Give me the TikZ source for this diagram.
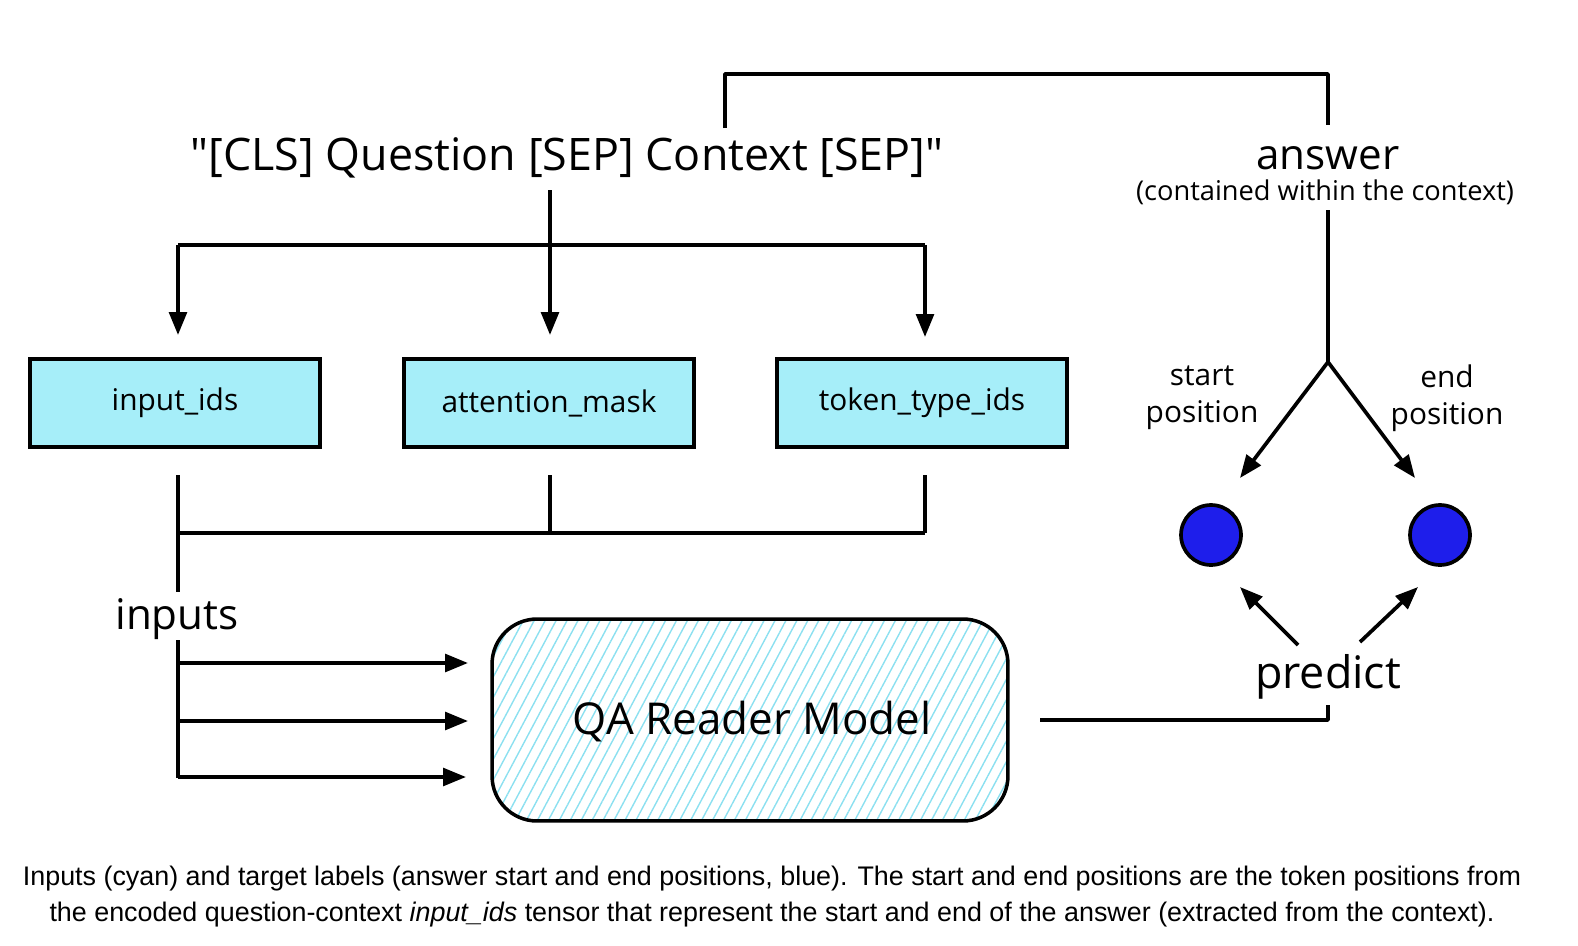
\documentclass[tikz,border=0pt]{standalone}
\usepackage{fontspec}
\setmainfont{Liberation Sans}
\newfontfamily\hand{Open Sans}
\usetikzlibrary{arrows.meta,patterns.meta}
\definecolor{boxcyan}{RGB}{166,238,249}
\definecolor{hatchc}{RGB}{140,224,240}
\definecolor{dotblue}{RGB}{30,30,235}
\begin{document}
\begin{tikzpicture}[x=0.02cm,y=-0.02cm,
  line/.style={line width=2.1pt, line join=round},
  arr/.style={line, -{Triangle[length=13pt,width=10pt]}},
  lbl/.style={font=\hand, inner sep=0pt, align=center},
  inbox/.style={draw, line width=2.4pt, fill=boxcyan, minimum width=5.8cm, minimum height=1.76cm, font=\hand\fontsize{17}{20}\selectfont},
  dot/.style={circle, draw, line width=2.1pt, fill=dotblue, minimum size=1.2cm, inner sep=0pt}]
\useasboundingbox (0,0) rectangle (1578,946);

% texts
\node[lbl, font=\hand\fontsize{25.5}{30}\selectfont] (t) at (567,158) {"[CLS] Question [SEP] Context [SEP]"};
\node[lbl, font=\hand\fontsize{24}{28}\selectfont] (ans) at (1328,158) {answer};
\node[lbl, font=\hand\fontsize{15.5}{18}\selectfont] (ctx) at (1325,192) {(contained within the context)};
\node[lbl, font=\hand\fontsize{17}{21}\selectfont] (sp) at (1202,398) {start\\position};
\node[lbl, font=\hand\fontsize{17}{21}\selectfont] (ep) at (1447,398) {end\\position};
\node[lbl, font=\hand\fontsize{25.5}{30}\selectfont] (pr) at (1328,677) {predict};
\node[lbl, font=\hand\fontsize{24}{28}\selectfont] (inp) at (177,619) {inputs};

% boxes
\node[inbox] (b1) at (175,403) {\raisebox{-3pt}{input\_ids}};
\node[inbox] (b2) at (549,403) {\raisebox{-3pt}{attention\_mask}};
\node[inbox] (b3) at (922,403) {\raisebox{-3pt}{token\_type\_ids}};

% model
\node[draw, line width=2pt, rounded corners=0.9cm, minimum width=10.32cm, minimum height=4.04cm,
      pattern={Lines[angle=62,distance=5.5pt,line width=0.8pt]}, pattern color=hatchc] (m) at (750,720) {};
\node[lbl, font=\hand\fontsize{25}{30}\selectfont] (mt) at (752,722) {QA Reader Model};

% dots
\node[dot] (c1) at (1211,535) {};
\node[dot] (c2) at (1440,535) {};

% coordinates
\coordinate (tj) at (725,128);
\coordinate (tr) at (1328,74);
\coordinate (aj) at (1328,125);
\coordinate (ab) at (1328,210);
\coordinate (fork) at (1328,362);
\coordinate (s1) at (1240,478);
\coordinate (s2) at (1415,478);
\coordinate (p1) at (1298,645);
\coordinate (p1e) at (1240,587);
\coordinate (p2) at (1360,642);
\coordinate (p2e) at (1418,587);
\coordinate (mo) at (1040,720);
\coordinate (pb) at (1328,705);
\coordinate (td) at (550,190);
\coordinate (h1) at (178,245);
\coordinate (h3) at (925,245);
\coordinate (a1) at (178,335);
\coordinate (a2) at (550,335);
\coordinate (a3) at (925,337);
\coordinate (l1) at (178,475);
\coordinate (l1b) at (178,592);
\coordinate (l2) at (550,475);
\coordinate (l2b) at (550,533);
\coordinate (l3) at (925,475);
\coordinate (j1) at (178,533);
\coordinate (j3) at (925,533);
\coordinate (v1) at (178,640);
\coordinate (v2) at (178,778);
\coordinate (r1) at (178,663);
\coordinate (r2) at (178,721);
\coordinate (r3) at (178,777);
\coordinate (e1) at (468,663);
\coordinate (e2) at (468,721);
\coordinate (e3) at (466,777);

% connectors
\draw[line] (tj) |- (tr) -- (aj);
\draw[line] (ab) -- (fork);
\draw[arr] (fork) -- (s1);
\draw[arr] (fork) -- (s2);
\draw[arr] (p1) -- (p1e);
\draw[arr] (p2) -- (p2e);
\draw[line] (mo) -| (pb);
\draw[arr] (td) -- (a2);
\draw[line] (h1) -- (h3);
\draw[arr] (h1) -- (a1);
\draw[arr] (h3) -- (a3);
\draw[line] (l1) -- (l1b);
\draw[line] (l2) -- (l2b);
\draw[line] (l3) -- (j3);
\draw[line] (j1) -- (j3);
\draw[line] (v1) -- (v2);
\draw[arr] (r1) -- (e1);
\draw[arr] (r2) -- (e2);
\draw[arr] (r3) -- (e3);

% caption
\node[font=\fontsize{15.3}{18}\selectfont, inner sep=0pt] (cap1) at (772,879) {Inputs (cyan) and target labels (answer start and end positions, blue). The start and end positions are the token positions from};
\node[font=\fontsize{15.3}{18}\selectfont, inner sep=0pt] (cap2) at (772,915) {the encoded question-context \textit{input\_ids} tensor that represent the start and end of the answer (extracted from the context).};
\end{tikzpicture}
\end{document}
